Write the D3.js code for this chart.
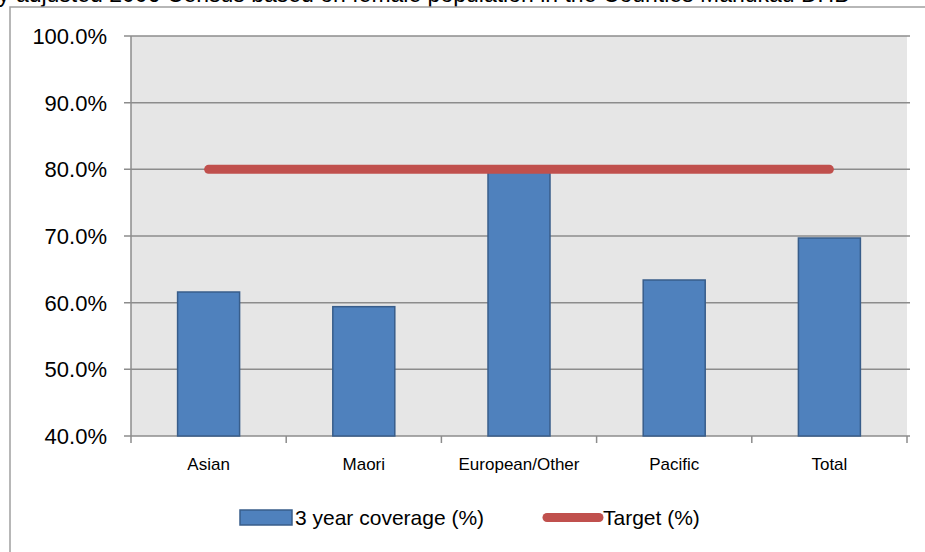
<!DOCTYPE html>
<html>
<head>
<meta charset="utf-8">
<script src="https://cdn.jsdelivr.net/npm/d3@7"></script>
<style>
  body { margin: 0; background: #fff; }
  text { font-family: "Liberation Sans", Arial, sans-serif; fill: #000; }
</style>
</head>
<body>
<div id="chart"></div>
<script>
const WIDTH = 925, HEIGHT = 552;

// data
const categories = ["Asian", "Maori", "European/Other", "Pacific", "Total"];
const coverage = [61.6, 59.4, 80.1, 63.4, 69.7];
const target = [80, 80, 80, 80, 80];
const yTicks = [40, 50, 60, 70, 80, 90, 100];
const legendLabels = ["3 year coverage (%)", "Target (%)"];

const BAR_COLOR = "#4f81bd", BAR_EDGE = "#385d8a", LINE_COLOR = "#c0504d";

const svg = d3.select("#chart").append("svg")
    .attr("width", WIDTH)
    .attr("height", HEIGHT);

// heading sits above the frame, only its lower part shows
svg.append("text")
    .attr("x", -2)
    .attr("y", 2)
    .style("font-size", "23px")
    .text("y adjusted 2006 Census based on female population in the Counties Manukau DHB");

// chart frame
svg.append("rect")
    .attr("x", 10).attr("y", 7)
    .attr("width", 940).attr("height", 560)
    .attr("fill", "#fff")
    .attr("stroke", "#a0a0a0")
    .attr("stroke-width", 1.5);

const x = d3.scaleBand().domain(categories).range([131, 907]);
const y = d3.scaleLinear().domain([40, 100]).range([436, 36]);

const plot = svg.append("g");

// plot background
plot.append("rect")
    .attr("x", x.range()[0]).attr("y", y(100))
    .attr("width", x.range()[1] - x.range()[0])
    .attr("height", y(40) - y(100))
    .attr("fill", "#e6e6e6");

// gridlines
plot.selectAll(".grid").data(yTicks).join("line")
    .attr("class", "grid")
    .attr("x1", 124).attr("x2", x.range()[1] + 3)
    .attr("y1", d => y(d)).attr("y2", d => y(d))
    .attr("stroke", "#8c8c8c")
    .attr("stroke-width", 1.5);

// y axis line
plot.append("line")
    .attr("x1", 131).attr("x2", 131)
    .attr("y1", y(100)).attr("y2", y(40))
    .attr("stroke", "#8c8c8c").attr("stroke-width", 1.5);

// y labels
plot.selectAll(".ylab").data(yTicks).join("text")
    .attr("class", "ylab")
    .attr("x", 107)
    .attr("y", d => y(d))
    .attr("dy", "0.36em")
    .attr("text-anchor", "end")
    .style("font-size", "22px")
    .text(d => d.toFixed(1) + "%");

// category ticks
const tickXs = categories.map(c => x(c)).concat([x.range()[1]]);
plot.selectAll(".xtick").data(tickXs).join("line")
    .attr("class", "xtick")
    .attr("x1", d => d).attr("x2", d => d)
    .attr("y1", y(40)).attr("y2", y(40) + 7)
    .attr("stroke", "#8c8c8c").attr("stroke-width", 1.5);

// bars
const barW = 62;
plot.selectAll(".bar").data(coverage).join("rect")
    .attr("class", "bar")
    .attr("x", (d, i) => x(categories[i]) + x.bandwidth() / 2 - barW / 2)
    .attr("y", d => y(d))
    .attr("width", barW)
    .attr("height", d => y(40) - y(d))
    .attr("fill", BAR_COLOR)
    .attr("stroke", BAR_EDGE)
    .attr("stroke-width", 1.5);

// target line
const line = d3.line()
    .x((d, i) => x(categories[i]) + x.bandwidth() / 2)
    .y(d => y(d));
plot.append("path")
    .datum(target)
    .attr("d", line)
    .attr("fill", "none")
    .attr("stroke", LINE_COLOR)
    .attr("stroke-width", 9)
    .attr("stroke-linecap", "round");

// category labels
plot.selectAll(".xlab").data(categories).join("text")
    .attr("class", "xlab")
    .attr("x", d => x(d) + x.bandwidth() / 2)
    .attr("y", 470)
    .attr("text-anchor", "middle")
    .style("font-size", "17px")
    .text(d => d);

// legend
const legend = svg.append("g");
legend.append("rect")
    .attr("x", 240).attr("y", 510)
    .attr("width", 52).attr("height", 15)
    .attr("fill", BAR_COLOR)
    .attr("stroke", BAR_EDGE).attr("stroke-width", 1.5);
legend.append("text")
    .attr("x", 295).attr("y", 525)
    .style("font-size", "21px")
    .text(legendLabels[0]);
legend.append("line")
    .attr("x1", 547).attr("x2", 599)
    .attr("y1", 517.5).attr("y2", 517.5)
    .attr("stroke", LINE_COLOR)
    .attr("stroke-width", 9)
    .attr("stroke-linecap", "round");
legend.append("text")
    .attr("x", 603).attr("y", 525)
    .style("font-size", "21px")
    .text(legendLabels[1]);
</script>
</body>
</html>
